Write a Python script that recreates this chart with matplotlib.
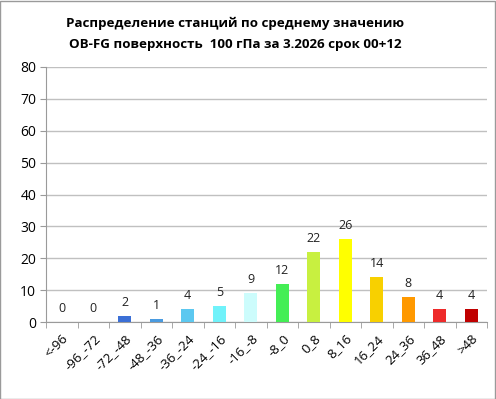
import numpy as np
import matplotlib.pyplot as plt
from matplotlib.patches import Rectangle

plt.rcParams['font.family'] = ['Open Sans', 'DejaVu Sans']

# data
categories = ['<-96', '-96_-72', '-72_-48', '-48_-36', '-36_-24', '-24_-16', '-16_-8',
              '-8_0', '0_8', '8_16', '16_24', '24_36', '36_48', '>48']
counts = [0, 0, 2, 1, 4, 5, 9, 12, 22, 26, 14, 8, 4, 4]
colors = ['#3b6fd6', '#3b6fd6', '#3b6fd6', '#4a9be0', '#5cc8f0', '#70f2fa', '#ccfcfc',
          '#44ee55', '#c8f040', '#ffff00', '#f8d000', '#ff9900', '#ee2a2a', '#c00000']
title = 'Распределение станций по среднему значению\nOB-FG поверхность  100 гПа за 3.2026 срок 00+12'

fig = plt.figure(figsize=(4.96, 3.99), dpi=100)
ax = fig.add_axes([46 / 496, 1 - 322 / 399, 441 / 496, 255 / 399])

x = np.arange(len(categories))
ax.bar(x, counts, width=0.4, color=colors, zorder=3)
for xi, c in zip(x, counts):
    ax.annotate(str(c), (xi, c), xytext=(0, 5), textcoords='offset points',
                ha='center', va='bottom', fontsize=9, color='#222222')

ax.set_xlim(-0.5, len(categories) - 0.5)
ax.set_ylim(0, 80)
ax.set_yticks(range(0, 81, 10))
ax.yaxis.grid(True, color='#c0c0c0', linewidth=1)
ax.set_axisbelow(True)

ax.set_xticks(x)
ax.set_xticklabels(categories, rotation=45, ha='right', rotation_mode='anchor', fontsize=9.5)
ax.set_xticks(np.arange(-0.5, len(categories), 1), minor=True)
ax.tick_params(axis='x', which='major', length=0, pad=7)
ax.tick_params(axis='x', which='minor', length=4, color='#9a9a9a')
ax.tick_params(axis='y', length=4, color='#9a9a9a', labelsize=10, pad=3)

for s in ['top', 'right']:
    ax.spines[s].set_visible(False)
for s in ['left', 'bottom']:
    ax.spines[s].set_color('#9a9a9a')

fig.text(235 / 496, 1 - 34 / 399, title, ha='center', va='center', fontsize=9.6,
         fontweight='bold', linespacing=1.75)

fig.patches.append(Rectangle((0.001, 0.001), 0.997, 0.997, transform=fig.transFigure,
                             fill=False, edgecolor='#9a9a9a', linewidth=1.0))

fig.savefig('out.png', dpi=100)
